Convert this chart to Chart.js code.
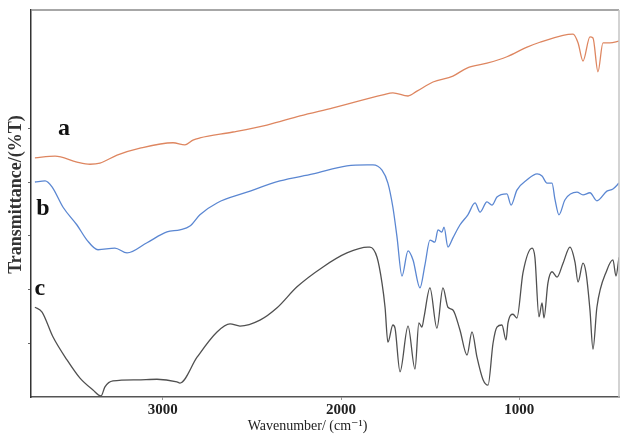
<!DOCTYPE html>
<html>
<head>
<meta charset="utf-8">
<script src="https://cdn.jsdelivr.net/npm/chart.js@4"></script>
<style>
  html, body { margin: 0; padding: 0; background: #fff; }
  #wrap { width: 621px; height: 435px; position: relative; }
</style>
</head>
<body>
<div id="wrap"><canvas id="ftir"></canvas></div>
<script>
// FTIR spectra a / b / c (y in tick units, no labels)
const waveA = [3718, 3605, 3482, 3409, 3353, 3257, 3128, 2943, 2876, 2831, 2792, 2606, 2416, 2230, 2045, 1765, 1709, 1624, 1574, 1484, 1372, 1293, 1181, 1069, 956, 884, 754, 698, 670, 642, 603, 586, 558, 530, 491, 440];
const transA = [4.45, 4.48, 4.37, 4.33, 4.35, 4.50, 4.63, 4.73, 4.69, 4.78, 4.82, 4.93, 5.06, 5.23, 5.38, 5.62, 5.66, 5.60, 5.69, 5.86, 5.97, 6.12, 6.21, 6.33, 6.51, 6.60, 6.73, 6.75, 6.59, 6.25, 6.70, 6.68, 6.05, 6.59, 6.59, 6.62];

const waveB = [3718, 3661, 3622, 3560, 3482, 3426, 3364, 3269, 3201, 3089, 2977, 2904, 2848, 2792, 2696, 2528, 2343, 2157, 1967, 1854, 1821, 1770, 1737, 1709, 1686, 1658, 1624, 1596, 1557, 1529, 1501, 1473, 1456, 1434, 1422, 1400, 1372, 1333, 1288, 1248, 1220, 1181, 1153, 1125, 1069, 1046, 1013, 956, 900, 872, 844, 816, 799, 777, 743, 676, 642, 603, 564, 508, 474, 440];
const transB = [4.00, 4.02, 3.91, 3.53, 3.20, 2.92, 2.74, 2.77, 2.68, 2.87, 3.07, 3.11, 3.18, 3.39, 3.61, 3.81, 4.02, 4.15, 4.30, 4.32, 4.32, 4.22, 3.98, 3.53, 2.98, 2.25, 2.72, 2.55, 2.03, 2.46, 2.92, 2.88, 3.11, 3.07, 3.16, 2.79, 2.96, 3.20, 3.39, 3.61, 3.44, 3.63, 3.57, 3.72, 3.78, 3.57, 3.85, 4.04, 4.15, 4.11, 3.98, 3.98, 3.67, 3.39, 3.67, 3.81, 3.76, 3.80, 3.65, 3.83, 3.87, 3.98];

const waveC = [3718, 3678, 3617, 3538, 3465, 3392, 3347, 3325, 3280, 3145, 3033, 2921, 2904, 2808, 2696, 2623, 2567, 2455, 2359, 2247, 2101, 1967, 1849, 1838, 1798, 1770, 1753, 1737, 1709, 1697, 1669, 1624, 1585, 1563, 1546, 1534, 1501, 1462, 1428, 1400, 1372, 1333, 1293, 1265, 1237, 1203, 1175, 1147, 1125, 1097, 1074, 1063, 1035, 1013, 979, 928, 912, 889, 872, 861, 839, 816, 788, 754, 715, 687, 670, 642, 625, 603, 586, 564, 508, 474, 457, 440];
const transC = [1.67, 1.58, 1.12, 0.69, 0.35, 0.13, 0.02, 0.19, 0.30, 0.32, 0.33, 0.28, 0.26, 0.74, 1.21, 1.36, 1.32, 1.43, 1.66, 2.05, 2.42, 2.68, 2.79, 2.79, 2.60, 2.12, 1.67, 1.02, 1.34, 1.28, 0.47, 1.32, 0.52, 1.38, 1.30, 1.49, 2.03, 1.28, 2.03, 1.67, 1.62, 1.25, 0.78, 1.21, 0.74, 0.32, 0.22, 1.00, 1.30, 1.34, 1.06, 1.38, 1.54, 1.47, 2.31, 2.77, 2.60, 1.49, 1.75, 1.47, 2.12, 2.33, 2.23, 2.49, 2.79, 2.51, 2.14, 2.49, 2.31, 1.62, 0.89, 1.67, 2.36, 2.55, 2.25, 2.60];

const xTicks = [3000, 2000, 1000];
const curveLabels = ["a", "b", "c"];
const labelWave = [3555, 3673, 3690];
const labelLevel = [4.99, 3.50, 2.01];

const pts = (xs, ys) => xs.map((x, i) => ({ x, y: ys[i] }));

const serif = "'Liberation Serif', 'DejaVu Serif', serif";

// frame (top/right border) + a/b/c labels
const extras = {
  id: "extras",
  afterDatasetsDraw(chart) {
    const { ctx, chartArea: a, scales } = chart;
    ctx.save();
    ctx.lineWidth = 1.5;
    ctx.strokeStyle = "#8a8a8a";
    ctx.beginPath();
    ctx.moveTo(a.left, a.top);
    ctx.lineTo(a.right, a.top);
    ctx.stroke();
    ctx.strokeStyle = "#c4c4c4";
    ctx.beginPath();
    ctx.moveTo(a.right, a.top);
    ctx.lineTo(a.right, a.bottom);
    ctx.stroke();
    ctx.fillStyle = "#111";
    ctx.font = "bold 24px " + serif;
    ctx.textAlign = "center";
    ctx.textBaseline = "middle";
    curveLabels.forEach((t, i) => {
      ctx.fillText(t, scales.x.getPixelForValue(labelWave[i]), scales.y.getPixelForValue(labelLevel[i]));
    });
    ctx.restore();
  },
};

new Chart(document.getElementById("ftir"), {
  type: "line",
  data: {
    datasets: [
      { label: "a", data: pts(waveA, transA), borderColor: "#de8660", borderWidth: 1.3 },
      { label: "b", data: pts(waveB, transB), borderColor: "#5b87d2", borderWidth: 1.3 },
      { label: "c", data: pts(waveC, transC), borderColor: "#505050", borderWidth: 1.3 },
    ],
  },
  options: {
    responsive: true, maintainAspectRatio: false, animation: false,
    parsing: false,
    elements: { point: { radius: 0 }, line: { cubicInterpolationMode: "monotone", fill: false } },
    layout: { padding: { top: 10, right: 2, left: 0, bottom: 0 } },
    plugins: { legend: { display: false }, tooltip: { enabled: false } },
    scales: {
      x: {
        type: "linear", reverse: true, min: 440, max: 3740,
        afterBuildTicks: (s) => { s.ticks = xTicks.map((v) => ({ value: v })); },
        afterFit: (s) => { s.height = 38; },
        border: { display: true, color: "#555", width: 1.5 },
        grid: { drawOnChartArea: false, drawTicks: true, tickLength: 3, tickColor: "#999" },
        ticks: {
          color: "#222", padding: 1, maxRotation: 0,
          callback: (v) => String(v),
          font: { family: serif, size: 15, weight: "bold" },
        },
        title: {
          display: true, text: "Wavenumber/ (cm\u207B\u00B9)" + "\u00A0".repeat(10), color: "#222",
          padding: { top: 0, bottom: 0 }, font: { family: serif, size: 14, lineHeight: 1.2 },
        },
      },
      y: {
        type: "linear", min: 0, max: 7.2,
        ticks: { display: false, stepSize: 1 },
        afterFit: (s) => { s.width = 31; },
        border: { display: true, color: "#333", width: 1.5 },
        grid: {
          drawOnChartArea: false, drawTicks: true, tickLength: 3,
          tickColor: (c) => (c.tick && c.tick.value >= 1 && c.tick.value <= 5 ? "#666" : "rgba(0,0,0,0)"),
        },
        title: {
          display: true, text: "\u00A0".repeat(4) + "Transmittance/(%T)", color: "#333",
          padding: { top: 6, bottom: 0 }, font: { family: serif, size: 18, weight: "bold", lineHeight: 1.2 },
        },
      },
    },
  },
  plugins: [extras],
});
</script>
</body>
</html>
